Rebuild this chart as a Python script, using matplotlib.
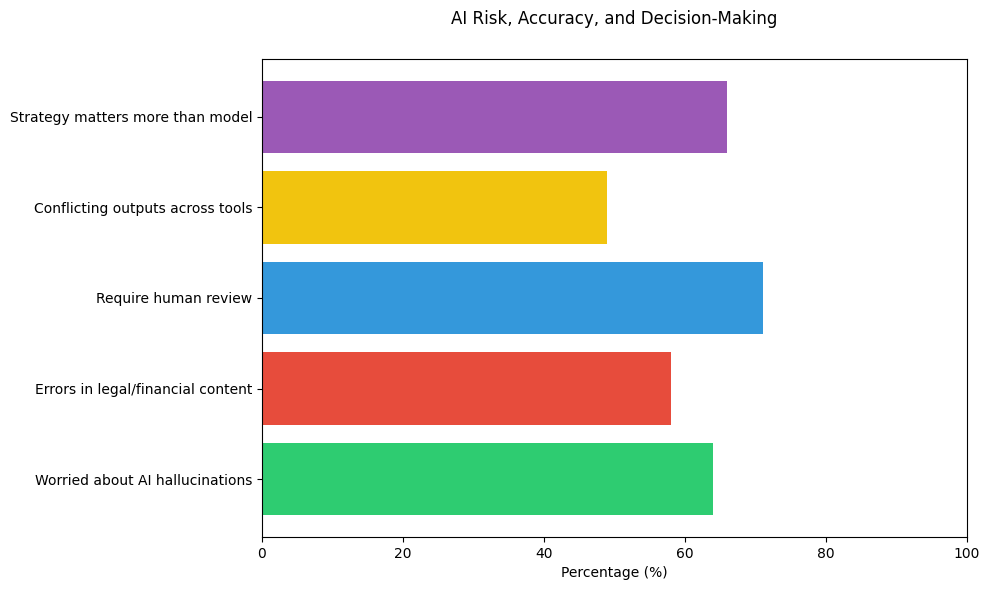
import matplotlib
matplotlib.use("Agg")
import matplotlib.pyplot as plt

categories = [
    "Worried about AI hallucinations",
    "Errors in legal/financial content",
    "Require human review",
    "Conflicting outputs across tools",
    "Strategy matters more than model",
]
values = [64, 58, 71, 49, 66]
colors = ["#2ecc71", "#e74c3c", "#3498db", "#f1c40f", "#9b59b6"]

fig, ax = plt.subplots(figsize=(9.89, 5.9), dpi=100)
ax.barh(categories, values, color=colors)
ax.set_xlim(0, 100)
ax.set_xlabel("Percentage (%)")
ax.set_title("AI Risk, Accuracy, and Decision-Making", pad=25)
fig.subplots_adjust(left=262/989, right=967/989, top=1-59/590, bottom=1-537/590)
fig.savefig("out.png", dpi=100)
